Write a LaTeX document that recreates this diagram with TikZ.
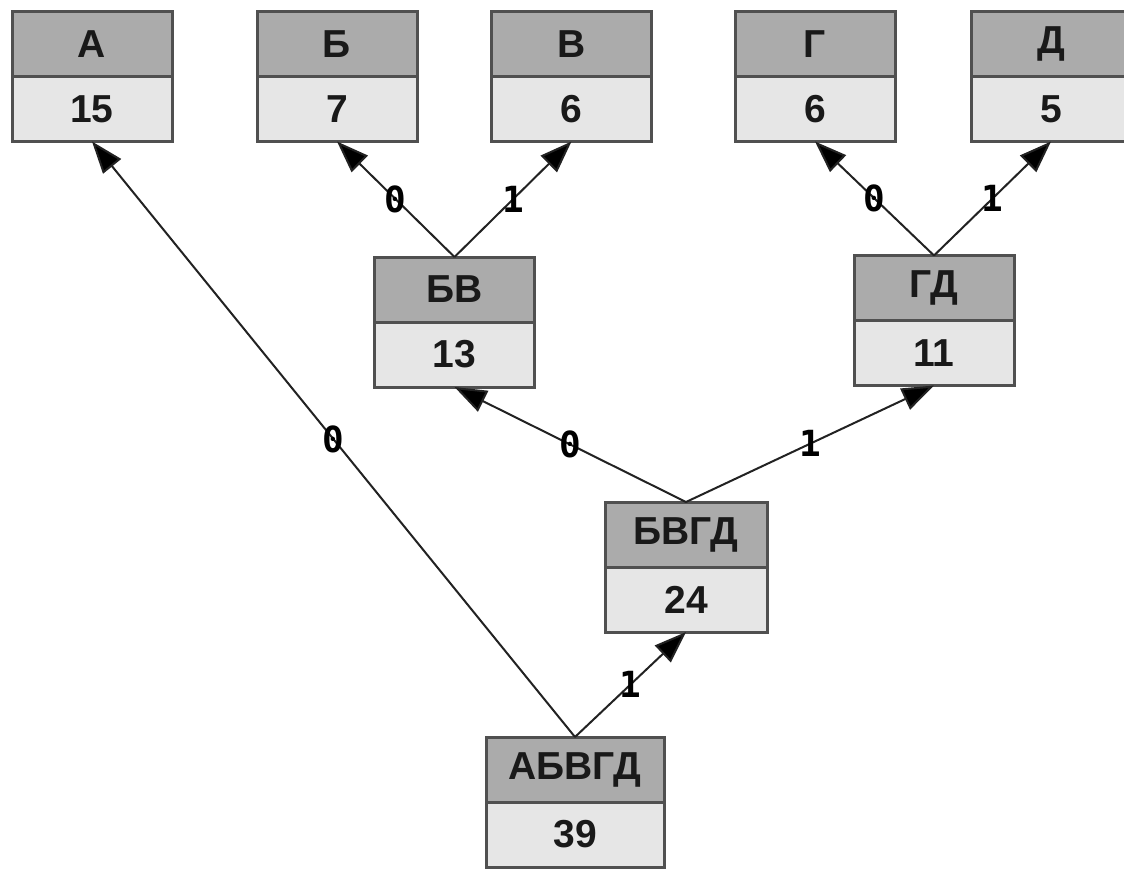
\documentclass[tikz,border=0pt]{standalone}
\usepackage{fontspec}
\newfontfamily\boxfont{Liberation Sans}
\newfontfamily\lblfont{DejaVu Sans Mono}
\usetikzlibrary{arrows.meta,positioning}
\definecolor{hdrc}{HTML}{ABABAB}
\definecolor{valc}{HTML}{E6E6E6}
\definecolor{bordc}{HTML}{505050}
\definecolor{edgec}{HTML}{222222}
\begin{document}
\begin{tikzpicture}[x=0.5pt,y=-0.5pt,
  cell/.style={draw=bordc, line width=1.5pt, minimum height=32.5pt, minimum width=80pt,
    inner sep=0pt, outer sep=0pt, text=black!90, font=\boxfont\bfseries\fontsize{19.5}{21}\selectfont},
  hdr/.style={cell, fill=hdrc},
  val/.style={cell, fill=valc},
  edge/.style={draw=edgec, line width=1pt, -{Triangle[length=16pt,width=11.5pt,fill=black]}},
  bit/.style={font=\lblfont\bfseries\fontsize{18}{19}\selectfont, inner sep=0pt, text=black}]
\useasboundingbox (0,0) rectangle (1124,869);
\clip (0,0) rectangle (1124,869);
% leaves
\node[hdr] (A) at (92,44) {А};
\node[val, below=0pt of A] (Av) {15};
\node[hdr] (B) at (337,44) {Б};
\node[val, below=0pt of B] (Bv) {7};
\node[hdr] (V) at (571.5,44) {В};
\node[val, below=0pt of V] (Vv) {6};
\node[hdr] (G) at (815,44) {Г};
\node[val, below=0pt of G] (Gv) {6};
\node[hdr] (D) at (1051,44) {Д};
\node[val, below=0pt of D] (Dv) {5};
% inner nodes
\node[hdr] (BV) at (454.5,289.5) {БВ};
\node[val, below=0pt of BV] (BVv) {13};
\node[hdr] (GD) at (934,288) {ГД};
\node[val, below=0pt of GD] (GDv) {11};
\node[hdr, minimum width=81pt] (BVGD) at (686,534.5) {БВГД};
\node[val, minimum width=81pt, below=0pt of BVGD] (BVGDv) {24};
\node[hdr, minimum width=89pt] (ABVGD) at (575,769.5) {АБВГД};
\node[val, minimum width=89pt, below=0pt of ABVGD] (ABVGDv) {39};
% edges
\draw[edge] (ABVGD.north) -- node[bit] {0} (Av.south);
\draw[edge] (ABVGD.north) -- node[bit] {1} (BVGDv.south);
\draw[edge] (BVGD.north) -- node[bit] {0} (BVv.south);
\draw[edge] (BVGD.north) -- node[bit] {1} (GDv.south);
\draw[edge] (BV.north) -- node[bit] {0} (Bv.south);
\draw[edge] (BV.north) -- node[bit] {1} (Vv.south);
\draw[edge] (GD.north) -- node[bit] {0} (Gv.south);
\draw[edge] (GD.north) -- node[bit] {1} (Dv.south);
\end{tikzpicture}
\end{document}
